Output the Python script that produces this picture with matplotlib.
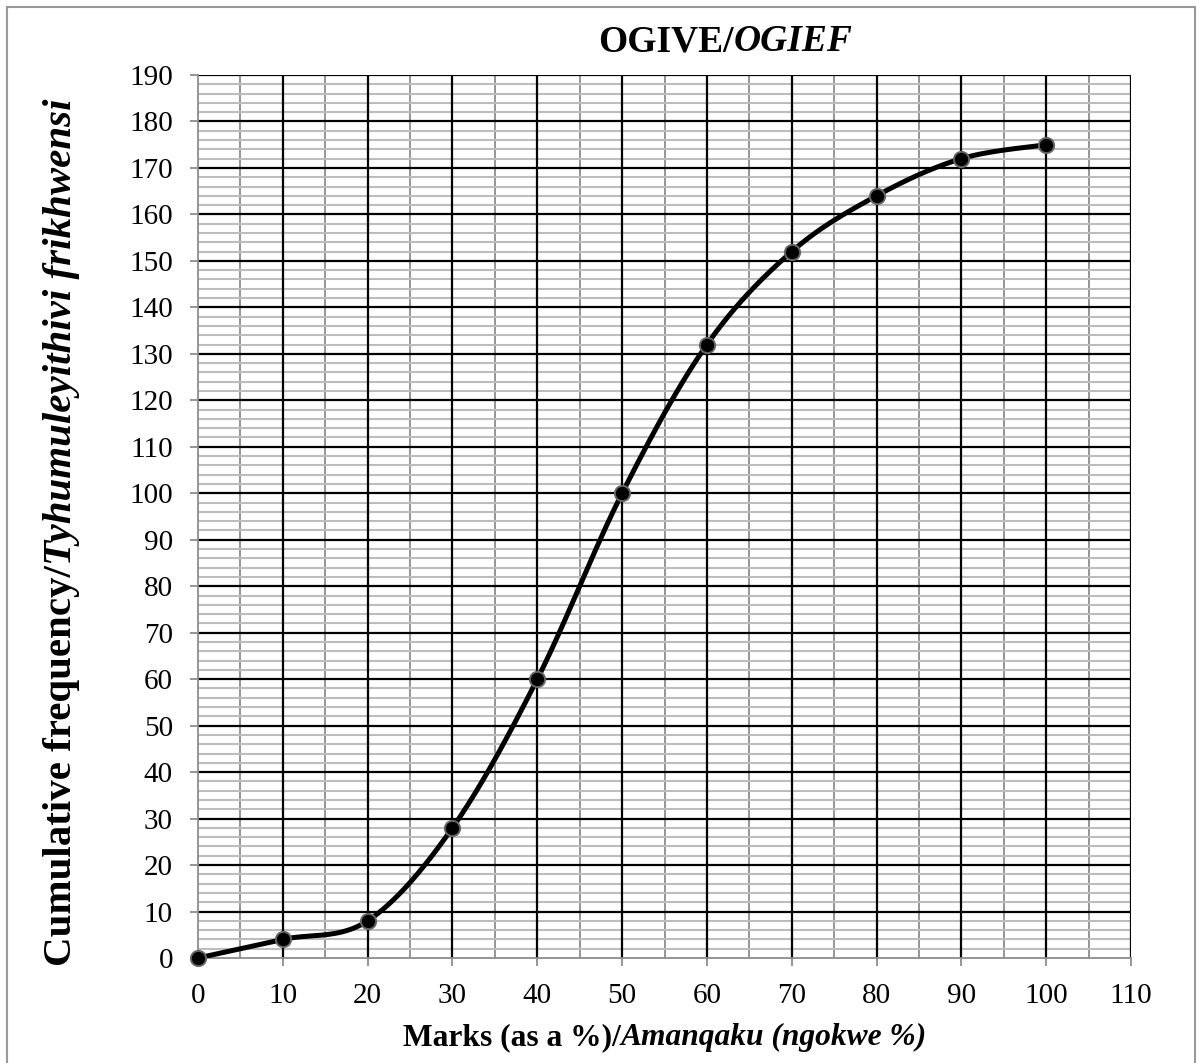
import numpy as np
import matplotlib.pyplot as plt
from matplotlib.patches import Rectangle
from matplotlib.transforms import IdentityTransform

marks = [0, 10, 20, 30, 40, 50, 60, 70, 80, 90, 100]
cum_freq = [0, 4, 8, 28, 60, 100, 132, 152, 164, 172, 175]

plt.rcParams['font.family'] = 'Liberation Serif'


def smooth(xs, ys, n=40):
    # excel-like smoothed line (catmull-rom as bezier)
    pts = np.column_stack([xs, ys]).astype(float)
    ext = np.vstack([pts[0], pts, pts[-1]])
    out = []
    for i in range(len(pts) - 1):
        p0, p1, p2, p3 = ext[i], ext[i + 1], ext[i + 2], ext[i + 3]
        c1 = p1 + (p2 - p0) / 6.0
        c2 = p2 - (p3 - p1) / 6.0
        t = np.linspace(0, 1, n)[:, None]
        seg = (1 - t) ** 3 * p1 + 3 * (1 - t) ** 2 * t * c1 + 3 * (1 - t) * t ** 2 * c2 + t ** 3 * p2
        out.append(seg if i == 0 else seg[1:])
    out = np.vstack(out)
    return out[:, 0], out[:, 1]


def mixed_text(fig, cx, cy, parts, size, vertical=False):
    # parts: list of (string, style); cx, cy in pixels (origin bottom-left)
    texts = []
    for s, style in parts:
        t = fig.text(0, 0, s, fontsize=size, fontweight='bold', fontstyle=style,
                     transform=IdentityTransform(), rotation=90 if vertical else 0,
                     ha='center' if vertical else 'left',
                     va='bottom' if vertical else 'baseline')
        texts.append(t)
    r = fig.canvas.get_renderer()
    sizes = []
    for t in texts:
        bb = t.get_window_extent(r)
        sizes.append(bb.height if vertical else bb.width)
    total = sum(sizes)
    pos = (cy if vertical else cx) - total / 2
    for t, sz in zip(texts, sizes):
        if vertical:
            t.set_position((cx, pos))
        else:
            t.set_position((pos, cy))
        pos += sz


fig = plt.figure(figsize=(12, 10.63), dpi=100)
ax = fig.add_axes([198 / 1200, 1 - 958 / 1063, (1131 - 198) / 1200, (958 - 75) / 1063])

ax.set_xlim(0, 110)
ax.set_ylim(0, 190)
ax.set_xticks(range(0, 111, 10))
ax.set_yticks(range(0, 191, 10))

# grid
for v in range(5, 110, 10):
    ax.axvline(v, color='#8c8c8c', lw=1.3, zorder=1)
for h in range(0, 190, 2):
    if h % 10 != 0:
        ax.axhline(h, color='#bdbdbd', lw=1.5, zorder=1)
for v in range(10, 111, 10):
    ax.axvline(v, color='black', lw=1.6, zorder=2)
for h in range(10, 191, 10):
    ax.axhline(h, color='black', lw=1.6, zorder=2)

sx, sy = smooth(marks, cum_freq)
ax.plot(sx, sy, color='black', lw=3.6, zorder=3, solid_capstyle='round')
ax.plot(marks, cum_freq, 'o', color='black', markersize=11, markeredgecolor='#666666',
        markeredgewidth=1.4, zorder=4, clip_on=False)

for s in ['top', 'right']:
    ax.spines[s].set_visible(False)
for s in ['left', 'bottom']:
    ax.spines[s].set_color('#8c8c8c')
    ax.spines[s].set_linewidth(1.3)

ax.tick_params(axis='both', direction='out', length=6, width=1.3, color='#8c8c8c',
               labelsize=21, labelcolor='black')
ax.tick_params(axis='x', pad=12)
ax.tick_params(axis='y', pad=12)

mixed_text(fig, 725, 1012, [('OGIVE/', 'normal'), ('OGIEF', 'italic')], 27)
mixed_text(fig, 665, 18, [('Marks (as a %)/', 'normal'), ('Amanqaku (ngokwe %)', 'italic')], 22.7)
mixed_text(fig, 62, 531, [('Cumulative frequency/', 'normal'),
                          ('Tyhumuleyithivi frikhwensi', 'italic')], 29.5, vertical=True)

fig.patches.append(Rectangle((7 / 1200, -0.05), (1195 - 7) / 1200, 1.05 - 7 / 1063,
                             transform=fig.transFigure, fill=False, edgecolor='#999999',
                             lw=1.5))

fig.savefig('out.png', dpi=100)
